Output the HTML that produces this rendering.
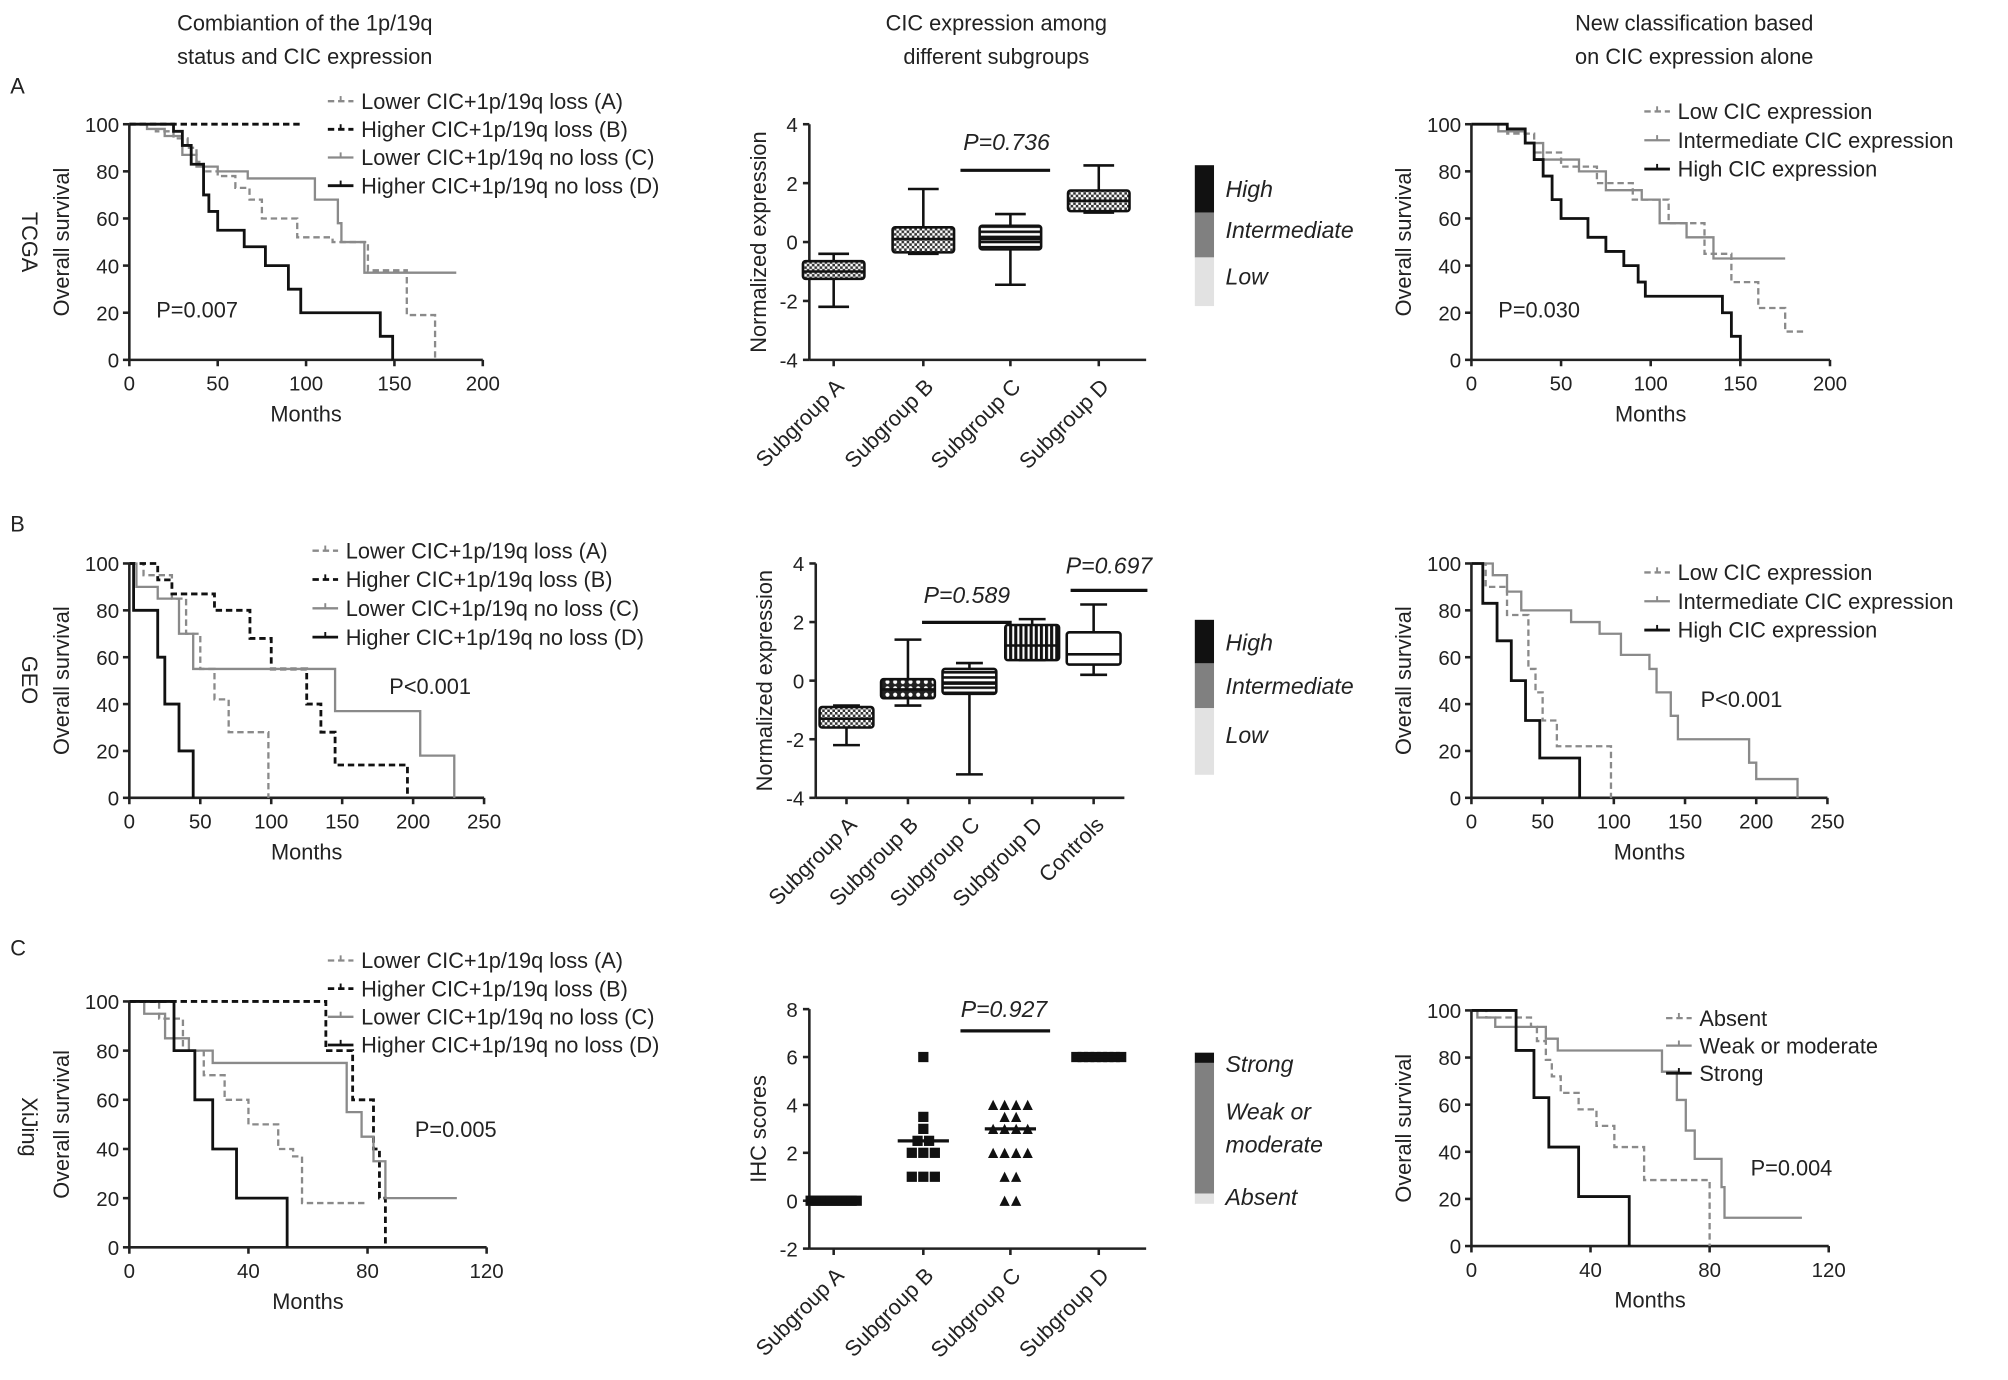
<!DOCTYPE html>
<html><head><meta charset="utf-8"><style>
html,body{margin:0;padding:0;background:#fff;}
svg{display:block;font-family:"Liberation Sans",Arial,sans-serif;}
</style></head><body>
<svg id="fig" width="2008" height="1380" viewBox="0 0 1568 1077.6" preserveAspectRatio="none" xmlns="http://www.w3.org/2000/svg">
<defs>
<pattern id="pChk" width="4" height="4" patternUnits="userSpaceOnUse"><rect width="4" height="4" fill="#fff"/><rect width="2" height="2" fill="#333"/><rect x="2" y="2" width="2" height="2" fill="#333"/></pattern>
<pattern id="pWave" width="6" height="5" patternUnits="userSpaceOnUse"><rect width="6" height="5" fill="#222"/><circle cx="3" cy="2.5" r="1.6" fill="#fff"/></pattern>
<pattern id="pHor" width="4" height="4" patternUnits="userSpaceOnUse"><rect width="4" height="4" fill="#fff"/><rect width="4" height="2" fill="#111"/></pattern>
<pattern id="pVer" width="4" height="4" patternUnits="userSpaceOnUse"><rect width="4" height="4" fill="#fff"/><rect width="2.4" height="4" fill="#111"/></pattern>
</defs>
</svg>
<script>
// ---------- data ----------
const tcgaA=[[0,100],[15,97],[25,94],[33,90],[38,84],[42,80],[50,78],[60,73],[68,68],[75,60],[95,52],[115,50],[135,38],[157,19],[173,0]];
const tcgaB=[[0,100],[97,100]];
const tcgaC=[[0,100],[10,98],[20,95],[30,87],[38,82],[50,80],[67,77],[105,68],[118,58],[120,50],[133,37],[185,37]];
const tcgaD=[[0,100],[25,97],[30,91],[35,83],[42,70],[45,63],[50,55],[65,48],[77,40],[90,30],[97,20],[142,10],[149,0]];
const tcgaLow=[[0,100],[20,96],[35,88],[50,82],[70,75],[90,68],[110,58],[130,45],[145,33],[160,22],[175,12],[185,12]];
const tcgaInt=[[0,100],[15,97],[30,92],[40,85],[60,80],[75,72],[95,68],[105,58],[120,52],[135,43],[175,43]];
const tcgaHigh=[[0,100],[20,98],[30,92],[35,85],[40,78],[45,68],[50,60],[65,52],[75,46],[85,40],[93,33],[97,27],[140,20],[145,10],[150,0]];
const geoA=[[0,100],[10,95],[30,85],[40,70],[50,55],[60,42],[70,28],[95,28],[98,0]];
const geoB=[[0,100],[20,93],[30,87],[60,80],[85,68],[100,55],[120,55],[125,40],[135,28],[145,14],[195,14],[196,0]];
const geoC=[[0,100],[5,90],[20,85],[35,70],[45,55],[140,55],[145,37],[200,37],[205,18],[228,18],[229,0]];
const geoD=[[0,100],[3,80],[20,60],[25,40],[35,20],[45,0]];
const geoLow=[[0,100],[10,90],[25,78],[40,55],[45,45],[50,33],[60,22],[95,22],[98,0]];
const geoInt=[[0,100],[15,95],[25,88],[35,80],[70,75],[90,70],[105,61],[125,55],[130,45],[140,35],[145,25],[190,25],[195,15],[200,8],[228,8],[229,0]];
const geoHigh=[[0,100],[8,83],[18,67],[28,50],[38,33],[48,17],[75,17],[76,0]];
const xjA=[[0,100],[10,93],[18,80],[25,70],[32,60],[40,50],[50,40],[55,37],[58,18],[80,18]];
const xjB=[[0,100],[62,100],[66,80],[75,60],[82,40],[84,20],[86,0]];
const xjC=[[0,100],[5,95],[12,85],[20,80],[28,75],[70,75],[73,55],[78,45],[82,35],[86,20],[110,20]];
const xjD=[[0,100],[15,80],[22,60],[28,40],[36,20],[53,20],[53,0]];
const xjAbs=[[0,100],[5,97],[20,93],[22,87],[25,79],[27,72],[30,65],[36,58],[42,51],[48,42],[58,28],[80,28],[80,0]];
const xjWeak=[[0,100],[2,97],[8,93],[25,88],[29,83],[63,83],[64,74],[69,62],[72,49],[75,37],[84,25],[85,12],[111,12]];
const xjStrong=[[0,100],[15,83],[21,63],[26,42],[36,21],[53,21],[53,0]];
const boxCatsA=["Subgroup A","Subgroup B","Subgroup C","Subgroup D"];
const boxStatsA=[[-2.2,-1.25,-1.0,-0.65,-0.4],[-0.4,-0.35,0.1,0.5,1.8],[-1.45,-0.25,0.1,0.55,0.95],[1.0,1.05,1.4,1.75,2.6]];
const boxCatsB=["Subgroup A","Subgroup B","Subgroup C","Subgroup D","Controls"];
const boxStatsB=[[-2.2,-1.6,-1.3,-0.9,-0.85],[-0.85,-0.6,-0.3,0.05,1.4],[-3.2,-0.45,-0.1,0.4,0.6],[0.7,0.7,1.2,1.9,2.1],[0.2,0.55,0.9,1.65,2.6]];
const ihcCats=["Subgroup A","Subgroup B","Subgroup C","Subgroup D"];
const ihcA=[0,0,0,0,0,0,0,0,0,0];
const ihcB=[6,3.5,3,2.5,2.5,2,2,2,1,1,1];
const ihcC=[4,4,4,4,3.5,3.5,3,3,3,3,2,2,2,2,1,1,0,0];
const ihcD=[6,6,6,6,6,6,6,6];
const ihcMeans=[0,2.5,3,6];
const yTicksKM=[0,20,40,60,80,100];
const yTicksBox=[-4,-2,0,2,4];
const yTicksIHC=[-2,0,2,4,6,8];

// ---------- helpers ----------
const NS="http://www.w3.org/2000/svg";
const svg=document.getElementById('fig');
function mk(tag,attrs,name,parent){
  const el=document.createElementNS(NS,tag);
  for(const k in attrs) el.setAttribute(k,attrs[k]);
  
  
  (parent||svg).appendChild(el);return el;
}
function txt(x,y,s,name,opt){
  opt=opt||{};
  const t=mk('text',{x:x,y:y,'font-size':opt.fs||16,'text-anchor':opt.a||'start',fill:'#222','font-style':opt.it?'italic':'normal'},name);
  if(opt.rot!==undefined) t.setAttribute('transform','rotate('+opt.rot+' '+x+' '+y+')');
  t.textContent=s;return t;
}
const GRAY='#8a8a8a';
function km(c){
  const sx=v=>c.x0+(v/c.xmax)*(c.x1-c.x0);
  const sy=v=>c.y0+(v/100)*(c.y100-c.y0);
  const g=mk('g',{},c.name);
  mk('line',{x1:c.x0,y1:c.y0,x2:c.x1,y2:c.y0,stroke:'#222','stroke-width':2},'x-axis',g);
  mk('line',{x1:c.x0,y1:c.y0,x2:c.x0,y2:c.y100,stroke:'#222','stroke-width':2},'y-axis',g);
  c.xt.forEach(v=>{mk('line',{x1:sx(v),y1:c.y0,x2:sx(v),y2:c.y0+5,stroke:'#222','stroke-width':2},'x-tick',g);txt(sx(v),c.y0+24,String(v),'x-tick-label',{a:'middle'});});
  yTicksKM.forEach(v=>{mk('line',{x1:c.x0-5,y1:sy(v),x2:c.x0,y2:sy(v),stroke:'#222','stroke-width':2},'y-tick',g);txt(c.x0-8,sy(v)+6,String(v),'y-tick-label',{a:'end'});});
  txt((c.x0+c.x1)/2,c.y0+48,'Months','x-axis-title',{a:'middle',fs:17});
  txt(c.x0-47,(c.y0+c.y100)/2,'Overall survival','y-axis-title',{a:'middle',fs:17,rot:-90});
  c.series.forEach(s=>{
    let d='M'+sx(s.d[0][0])+','+sy(s.d[0][1]);
    for(let i=1;i<s.d.length;i++){d+=' H'+sx(s.d[i][0])+' V'+sy(s.d[i][1]);}
    const p=mk('path',{d:d,fill:'none',stroke:s.col,'stroke-width':s.w||1.8},'km-curve-'+s.n,g);
    if(s.dash) p.setAttribute('stroke-dasharray','5,3');
  });
  c.leg.forEach((L,i)=>{
    const y=c.ly+i*c.lg;
    const l=mk('line',{x1:c.lx,y1:y,x2:c.lx+20,y2:y,stroke:L.col,'stroke-width':L.w||1.8},'legend-line',g);
    if(L.dash) l.setAttribute('stroke-dasharray','5,3');
    mk('line',{x1:c.lx+10,y1:y-4,x2:c.lx+10,y2:y,stroke:L.col,'stroke-width':1.5},'legend-censor',g);
    txt(c.lx+26,y+6,L.t,'legend-entry',{fs:17});
  });
  txt(c.px,c.py,c.p,'p-value',{fs:17});
}
function boxAxis(c,ticks){
  const sy=v=>c.yb+(v-c.ymin)/(c.ymax-c.ymin)*(c.yt-c.yb);
  const g=mk('g',{},c.name);
  mk('line',{x1:c.ax,y1:c.yb,x2:c.xend,y2:c.yb,stroke:'#222','stroke-width':2},'x-axis',g);
  mk('line',{x1:c.ax,y1:c.yb,x2:c.ax,y2:c.yt,stroke:'#222','stroke-width':2},'y-axis',g);
  ticks.forEach(v=>{mk('line',{x1:c.ax-5,y1:sy(v),x2:c.ax,y2:sy(v),stroke:'#222','stroke-width':2},'y-tick',g);txt(c.ax-9,sy(v)+6,String(v),'y-tick-label',{a:'end'});});
  c.cats.forEach((s,i)=>{const x=c.cx[i];mk('line',{x1:x,y1:c.yb,x2:x,y2:c.yb+5,stroke:'#222','stroke-width':2},'x-tick',g);txt(x+9,c.yb+22,s,'x-tick-label',{a:'end',rot:-45,fs:17});});
  txt(c.ax-34,(c.yb+c.yt)/2,c.ytitle,'y-axis-title',{a:'middle',fs:17,rot:-90});
  return {sy:sy,g:g};
}
function boxes(c,stats,fills){
  const A=boxAxis(c,yTicksBox);const sy=A.sy;const w=c.bw;
  stats.forEach((s,i)=>{
    const x=c.cx[i];
    mk('line',{x1:x,y1:sy(s[0]),x2:x,y2:sy(s[4]),stroke:'#111','stroke-width':2},'whisker',A.g);
    mk('line',{x1:x-w/4,y1:sy(s[0]),x2:x+w/4,y2:sy(s[0]),stroke:'#111','stroke-width':2},'whisker-cap',A.g);
    mk('line',{x1:x-w/4,y1:sy(s[4]),x2:x+w/4,y2:sy(s[4]),stroke:'#111','stroke-width':2},'whisker-cap',A.g);
    mk('rect',{x:x-w/2,y:sy(s[3]),width:w,height:sy(s[1])-sy(s[3]),fill:fills[i],stroke:'#111','stroke-width':2,rx:2},'box-'+c.cats[i].replace(/ /g,'-').toLowerCase(),A.g);
    mk('line',{x1:x-w/2,y1:sy(s[2]),x2:x+w/2,y2:sy(s[2]),stroke:'#111','stroke-width':2},'median',A.g);
  });
  return A;
}
function scale(c){
  c.parts.forEach((p,i)=>{mk('rect',{x:933,y:p[0],width:15,height:p[1]-p[0],fill:p[2]},'scale-'+p[3].toLowerCase().replace(/ /g,'-'));});
  c.labels.forEach(l=>txt(957,l[1],l[0],'scale-label',{fs:18,it:true}));
}
function bracket(x1,x2,y,p,px,py){
  mk('line',{x1:x1,y1:y,x2:x2,y2:y,stroke:'#111','stroke-width':2.5},'significance-bar');
  txt(px,py,p,'significance-p',{fs:18,a:'middle',it:true});
}

// ---------- headers ----------
txt(238,24,'Combiantion of the 1p/19q','column-title',{a:'middle',fs:17});
txt(238,50,'status and CIC expression','column-title',{a:'middle',fs:17});
txt(778,24,'CIC expression among','column-title',{a:'middle',fs:17});
txt(778,50,'different subgroups','column-title',{a:'middle',fs:17});
txt(1323,24,'New classification based','column-title',{a:'middle',fs:17});
txt(1323,50,'on CIC expression alone','column-title',{a:'middle',fs:17});
txt(8,73,'A','panel-label-a',{fs:17});
txt(8,415,'B','panel-label-b',{fs:17});
txt(8,746,'C','panel-label-c',{fs:17});
txt(17,189,'TCGA','row-label-tcga',{a:'middle',fs:17,rot:90});
txt(17,531,'GEO','row-label-geo',{a:'middle',fs:17,rot:90});
txt(17,880,'XiJing','row-label-xijing',{a:'middle',fs:17,rot:90});

const L4=['Lower CIC+1p/19q loss (A)','Higher CIC+1p/19q loss (B)','Lower CIC+1p/19q no loss (C)','Higher CIC+1p/19q no loss (D)'];
const sty=[{col:GRAY,dash:1},{col:'#111',dash:1,w:2.2},{col:GRAY},{col:'#111',w:2.2}];
function four(a,b,c2,d){return [a,b,c2,d].map((x,i)=>Object.assign({d:x,n:['a','b','c','d'][i]},sty[i]));}
function legs(names){return names.map((t,i)=>Object.assign({t:t},sty[i]));}
const sty3=[{col:GRAY,dash:1},{col:GRAY},{col:'#111',w:2.2}];
function three(a,b,c2,names){return {s:[a,b,c2].map((x,i)=>Object.assign({d:x,n:'s'+i},sty3[i])),l:names.map((t,i)=>Object.assign({t:t},sty3[i]))};}

// Row A
km({name:'km-tcga-combination',x0:101,x1:377,xmax:200,xt:[0,50,100,150,200],y0:281,y100:97,series:four(tcgaA,tcgaB,tcgaC,tcgaD),leg:legs(L4),lx:256,ly:79,lg:22,p:'P=0.007',px:122,py:248});
let t3=three(tcgaLow,tcgaInt,tcgaHigh,['Low CIC expression','Intermediate CIC expression','High CIC expression']);
km({name:'km-tcga-cic',x0:1149,x1:1429,xmax:200,xt:[0,50,100,150,200],y0:281,y100:97,series:t3.s,leg:t3.l,lx:1284,ly:87,lg:22.5,p:'P=0.030',px:1170,py:248});
boxes({name:'box-tcga',ax:632,xend:895,yb:281,yt:97,ymin:-4,ymax:4,cats:boxCatsA,cx:[651,721,789,858],bw:48,ytitle:'Normalized expression'},boxStatsA,['url(#pChk)','url(#pChk)','url(#pHor)','url(#pChk)']);
bracket(750,820,133,'P=0.736',786,117);
scale({parts:[[129,166,'#111','High'],[166,201,'#808080','Intermediate'],[201,239,'#e2e2e2','Low']],labels:[['High',154],['Intermediate',186],['Low',222]]});

// Row B
km({name:'km-geo-combination',x0:101,x1:378,xmax:250,xt:[0,50,100,150,200,250],y0:623,y100:440,series:four(geoA,geoB,geoC,geoD),leg:legs(L4),lx:244,ly:430,lg:22.5,p:'P<0.001',px:304,py:542});
t3=three(geoLow,geoInt,geoHigh,['Low CIC expression','Intermediate CIC expression','High CIC expression']);
km({name:'km-geo-cic',x0:1149,x1:1427,xmax:250,xt:[0,50,100,150,200,250],y0:623,y100:440,series:t3.s,leg:t3.l,lx:1284,ly:447,lg:22.5,p:'P<0.001',px:1328,py:552});
boxes({name:'box-geo',ax:637,xend:878,yb:623,yt:440,ymin:-4,ymax:4,cats:boxCatsB,cx:[661,709,757,806,854],bw:42,ytitle:'Normalized expression'},boxStatsB,['url(#pChk)','url(#pWave)','url(#pHor)','url(#pVer)','#fff']);
bracket(720,790,486,'P=0.589',755,471);
bracket(836,896,461,'P=0.697',866,448);
scale({parts:[[484,518,'#111','High'],[518,553,'#808080','Intermediate'],[553,605,'#e2e2e2','Low']],labels:[['High',508],['Intermediate',542],['Low',580]]});

// Row C
km({name:'km-xijing-combination',x0:101,x1:380,xmax:120,xt:[0,40,80,120],y0:974,y100:782,series:four(xjA,xjB,xjC,xjD),leg:legs(L4),lx:256,ly:750,lg:22,p:'P=0.005',px:324,py:888});
t3=three(xjAbs,xjWeak,xjStrong,['Absent','Weak or moderate','Strong']);
km({name:'km-xijing-ihc',x0:1149,x1:1428,xmax:120,xt:[0,40,80,120],y0:973,y100:789,series:t3.s,leg:t3.l,lx:1301,ly:795,lg:21.5,p:'P=0.004',px:1367,py:918});
(function(){
  const c={name:'dot-xijing-ihc',ax:632,xend:895,yb:975,yt:788,ymin:-2,ymax:8,cats:ihcCats,cx:[651,721,789,858],ytitle:'IHC scores'};
  const A=boxAxis(c,yTicksIHC);const sy=A.sy;
  const groups=[ihcA,ihcB,ihcC,ihcD];
  groups.forEach((arr,gi)=>{
    const cnt={};
    arr.forEach(v=>{
      const k=v;cnt[k]=(cnt[k]||0)+1;
      const n=arr.filter(q=>q===v).length,j=cnt[k]-1;
      const x=c.cx[gi]+(j-(n-1)/2)*Math.min(9,40/Math.max(n,1));
      const y=sy(v);
      if(gi===2) mk('path',{d:'M'+(x-4)+','+(y+4)+' L'+x+','+(y-4)+' L'+(x+4)+','+(y+4)+'Z',fill:'#111'},'point-triangle',A.g);
      else mk('rect',{x:x-4,y:y-4,width:8,height:8,fill:'#111'},'point-square',A.g);
    });
    mk('line',{x1:c.cx[gi]-20,y1:sy(ihcMeans[gi]),x2:c.cx[gi]+20,y2:sy(ihcMeans[gi]),stroke:'#111','stroke-width':2.5},'mean-line',A.g);
  });
})();
bracket(750,820,805,'P=0.927',784,794);
scale({parts:[[822,830,'#111','Strong'],[830,932,'#808080','Weak'],[932,940,'#e2e2e2','Absent']],labels:[['Strong',837],['Weak or',874],['moderate',900],['Absent',941]]});
</script>
</body></html>
